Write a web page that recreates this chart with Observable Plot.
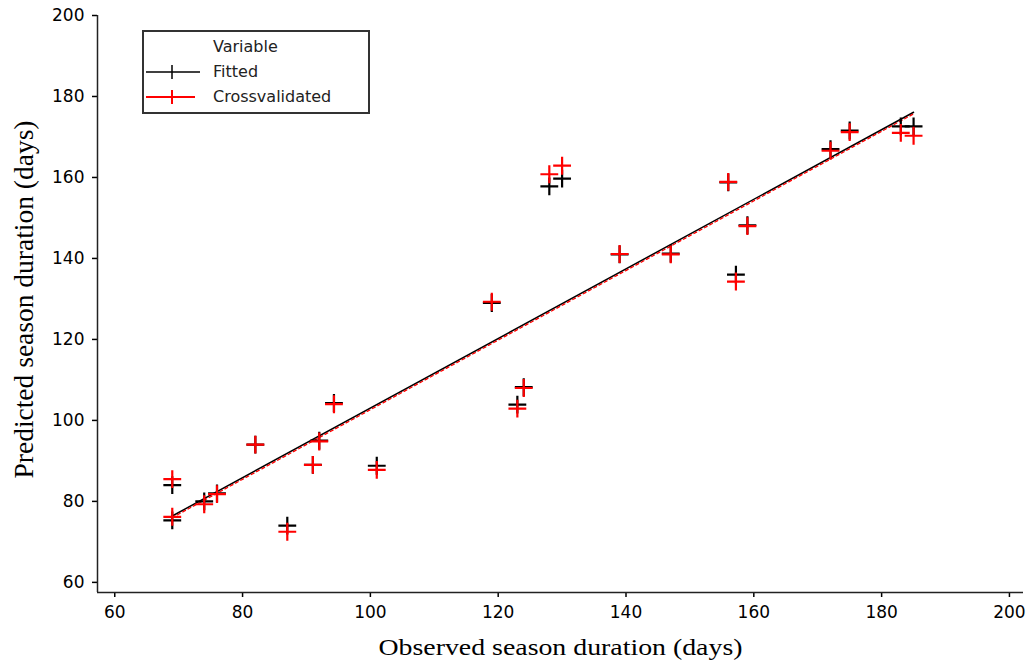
<!DOCTYPE html>
<html>
<head>
<meta charset="utf-8">
<script src="https://cdn.jsdelivr.net/npm/d3@7"></script>
<script src="https://cdn.jsdelivr.net/npm/@observablehq/plot@0.6"></script>
<style>
  body { margin: 0; background: #fff; }
  #wrap { position: relative; width: 1031px; height: 668px; }
  #legend { position: absolute; left: 142px; top: 30px; width: 224px; height: 80px;
            border: 2px solid #333; background: #fff; }
</style>
</head>
<body>
<div id="wrap"></div>
<script>
// ---- data ----
const observed       = [69,   69,   74,   76,   82,   87,   91,   92,   94.3,  101,  119,   123,   124,   128,   130,   139,   147,   156,   157.2, 159,   172,   175,   183,   185];
const fitted         = [75.3, 84.0, 80.0, 82.0, 94.0, 74.0, 89.0, 95.0, 104.3, 88.8, 129.0, 103.9, 108.2, 157.8, 159.7, 141.0, 141.2, 158.8, 136.0, 148.2, 167.0, 171.6, 172.6, 172.6];
const crossvalidated = [76.2, 85.5, 79.3, 81.8, 94.0, 72.5, 89.0, 94.8, 104.0, 87.8, 129.3, 102.9, 108.0, 160.8, 162.9, 141.1, 141.0, 158.9, 134.3, 148.0, 166.6, 171.2, 171.0, 170.3];

// regression lines (end points)
const fitLineX   = [69, 185];
const fitLineFit = [76.4, 176.1];
const fitLineCV  = [76.0, 175.7];

const xTicks = [60, 80, 100, 120, 140, 160, 180, 200];
const yTicks = [60, 80, 100, 120, 140, 160, 180, 200];
const xDomain = [57.3, 202.2];
const yDomain = [57.5, 200];

const seriesNames  = ["Fitted", "Crossvalidated"];
const seriesColors = ["#000000", "#ff0000"];
const legendTitle = "Variable";
const xLabel = "Observed season duration (days)";
const yLabel = "Predicted season duration (days)";

// ---- build tables ----
const points = observed.map((o, i) => ({obs: o, fitted: fitted[i], cv: crossvalidated[i]}));
const lineFit = fitLineX.map((x, i) => ({x, y: fitLineFit[i]}));
const lineCV  = fitLineX.map((x, i) => ({x, y: fitLineCV[i]}));

const chart = Plot.plot({
  width: 1031,
  height: 668,
  marginLeft: 97,
  marginRight: 8,
  marginTop: 15,
  marginBottom: 76,
  style: {fontFamily: "DejaVu Sans", fontSize: "17px", color: "#000", background: "#fff"},
  x: {domain: xDomain, ticks: xTicks},
  y: {domain: yDomain, ticks: yTicks},
  marks: [
    Plot.axisX({ticks: xTicks, tickSize: 5, tickPadding: 8, label: null, strokeWidth: 1.5, letterSpacing: 1.5}),
    Plot.axisY({ticks: yTicks, tickSize: 5, tickPadding: 8, label: null, strokeWidth: 1.5, letterSpacing: 1.5}),
    Plot.ruleX([xDomain[0]], {stroke: "#222", strokeWidth: 1.5}),
    Plot.ruleY([yDomain[0]], {stroke: "#222", strokeWidth: 1.5}),
    Plot.line(lineFit, {x: "x", y: "y", stroke: seriesColors[0], strokeWidth: 1.5}),
    Plot.line(lineCV,  {x: "x", y: "y", stroke: seriesColors[1], strokeWidth: 1.3, strokeDasharray: "3,3"}),
    Plot.dot(points, {x: "obs", y: "fitted", symbol: "plus", r: 5.8, stroke: seriesColors[0], strokeWidth: 2.2}),
    Plot.dot(points, {x: "obs", y: "cv", symbol: "plus", r: 5.8, stroke: seriesColors[1], strokeWidth: 2.2}),
    Plot.text([xLabel], {frameAnchor: "bottom", dy: 55, fontSize: 24, fontFamily: "Liberation Serif", lineAnchor: "middle", textAnchor: "middle", fill: "#000"}),
    Plot.text([yLabel], {frameAnchor: "left", dx: -73.6, dy: -4.5, rotate: -90, fontSize: 27, fontFamily: "Liberation Serif", lineAnchor: "middle", textAnchor: "middle", fill: "#000"})
  ]
});

// stretch axis titles to the reference widths
chart.querySelectorAll("text").forEach(t => {
  if (t.textContent === xLabel) { t.setAttribute("textLength", 364); t.setAttribute("lengthAdjust", "spacingAndGlyphs"); t.style.letterSpacing = "0"; }
  if (t.textContent === yLabel) { t.setAttribute("textLength", 358); t.setAttribute("lengthAdjust", "spacingAndGlyphs"); t.style.letterSpacing = "0"; }
});

const wrap = document.getElementById("wrap");
wrap.appendChild(chart);

// ---- legend (inside plot, top-left) ----
const legend = d3.select(wrap).append("div").attr("id", "legend");
const lsvg = legend.append("svg").attr("width", 224).attr("height", 80)
  .style("font-family", "DejaVu Sans").style("font-size", "16px");
lsvg.append("text").attr("x", 69).attr("y", 20).attr("fill", "#222").text(legendTitle);
seriesNames.forEach((name, i) => {
  const cy = 40 + i * 25;
  const g = lsvg.append("g").attr("stroke", seriesColors[i]).attr("stroke-width", i === 0 ? 1.5 : 2);
  g.append("line").attr("x1", 2).attr("x2", i === 0 ? 56 : 51).attr("y1", cy).attr("y2", cy);
  g.append("line").attr("x1", 28).attr("x2", 28).attr("y1", cy - 7).attr("y2", cy + 7);
  lsvg.append("text").attr("x", 69).attr("y", cy + 5).attr("fill", "#222").text(name);
});
</script>
</body>
</html>
